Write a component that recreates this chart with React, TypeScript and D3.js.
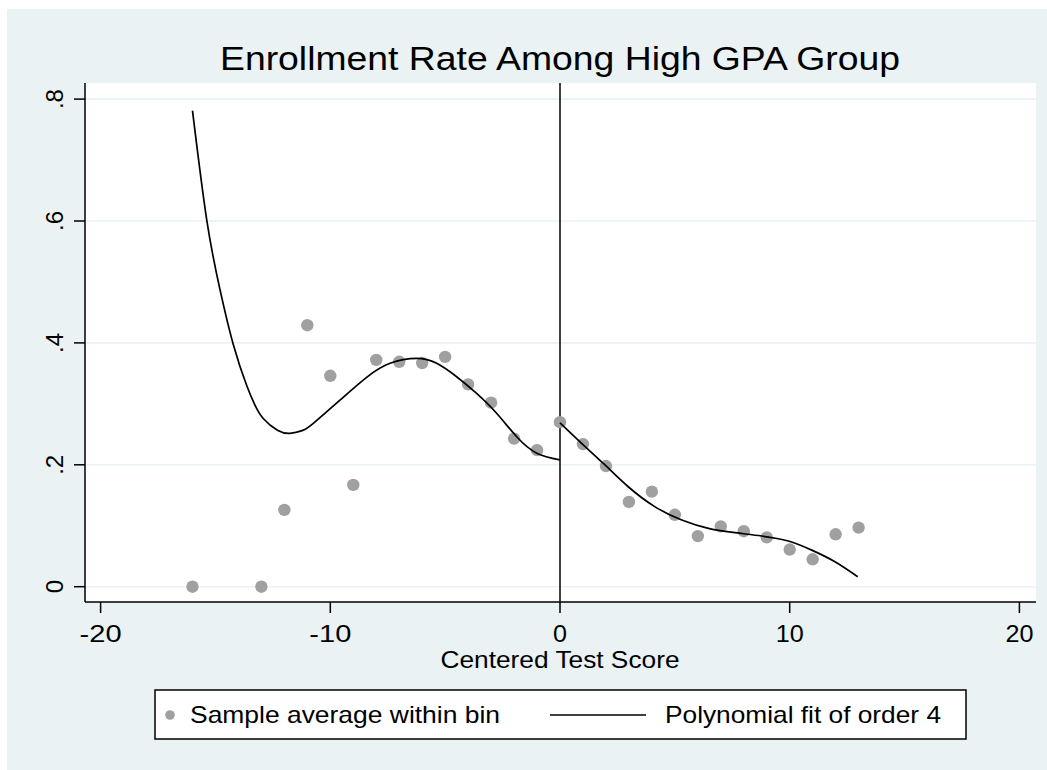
import React from "react";
import * as d3 from "d3";

const binX = [-16, -13, -12, -11, -10, -9, -8, -7, -6, -5, -4, -3, -2, -1, 0, 1, 2, 3, 4, 5, 6, 7, 8, 9, 10, 11, 12, 13];
const binY = [0.0, 0.0, 0.126, 0.429, 0.346, 0.167, 0.372, 0.369, 0.367, 0.377, 0.332, 0.302, 0.243, 0.224, 0.270, 0.234, 0.198, 0.139, 0.156, 0.118, 0.083, 0.099, 0.091, 0.081, 0.061, 0.045, 0.086, 0.097];

const fitLeftX = [-16, -15.38, -14.8, -14.22, -13.64, -13.28, -12.92, -12.3, -11.75, -11.2, -10.74, -9.58, -8.42, -7.4, -6.24, -5.37, -4.5, -3.63, -2.76, -1.885, -1.01, 0];
const fitLeftY = [0.781, 0.602, 0.487, 0.397, 0.33, 0.298, 0.276, 0.2568, 0.2516, 0.2565, 0.268, 0.306, 0.3435, 0.3665, 0.3747, 0.3665, 0.3445, 0.317, 0.2845, 0.246, 0.219, 0.208];

const fitRightX = [0, 0.94, 1.96, 2.97, 4.14, 5.3, 6.46, 7.62, 8.78, 9.94, 10.96, 11.97, 12.96];
const fitRightY = [0.269, 0.2353, 0.1997, 0.164, 0.131, 0.1094, 0.0958, 0.0886, 0.0832, 0.075, 0.06, 0.041, 0.0164];

const xTicks = [-20, -10, 0, 10, 20];
const yTicks = [0, 0.2, 0.4, 0.6, 0.8];
const yTickLabels = ["0", ".2", ".4", ".6", ".8"];

const title = "Enrollment Rate Among High GPA Group";
const xTitle = "Centered Test Score";
const legendLabels = ["Sample average within bin", "Polynomial fit of order 4"];

const FONT = "'Liberation Sans', Arial, Helvetica, sans-serif";
const BG = "#EAF2F3";
const DOT = "#A0A0A0";

export default function App() {
  const W = 1047, H = 770;
  const plotL = 85, plotR = 1036, plotT = 83, plotB = 602;
  const x = d3.scaleLinear().domain([-20, 20]).range([100.6, 1019.4]);
  const y = d3.scaleLinear().domain([0, 0.8]).range([586.7, 99.1]);

  const line = d3
    .line<[number, number]>()
    .x((d) => x(d[0]))
    .y((d) => y(d[1]))
    .curve(d3.curveNatural);

  const leftPts: [number, number][] = fitLeftX.map((v, i) => [v, fitLeftY[i]]);
  const rightPts: [number, number][] = fitRightX.map((v, i) => [v, fitRightY[i]]);

  const tickLen: Record<number, number> = { [-20]: 42, [-10]: 42, 0: 14, 10: 28, 20: 28 };

  return (
    <svg width={W} height={H} style={{ position: "absolute", left: 0, top: 0 }} fontFamily={FONT}>
      <rect x={0} y={0} width={W} height={H} fill="#ffffff" />
      <rect x={7} y={9} width={W - 7} height={H - 9} fill={BG} />
      <rect x={plotL} y={plotT} width={plotR - plotL} height={plotB - plotT} fill="#ffffff" />

      {yTicks.map((t) => (
        <line key={"g" + t} x1={plotL} x2={plotR} y1={y(t)} y2={y(t)} stroke={BG} strokeWidth={1.6} />
      ))}

      <text x={560} y={70} textAnchor="middle" fontSize={34} fill="#000" textLength={680} lengthAdjust="spacingAndGlyphs">
        {title}
      </text>

      {/* axes */}
      <line x1={plotL} x2={plotL} y1={plotT} y2={plotB} stroke="#000" strokeWidth={1.5} />
      <line x1={plotL} x2={plotR} y1={plotB} y2={plotB} stroke="#000" strokeWidth={1.5} />

      {yTicks.map((t, i) => (
        <g key={"yt" + t}>
          <line x1={74} x2={plotL} y1={y(t)} y2={y(t)} stroke="#000" strokeWidth={1.5} />
          <text
            transform={`translate(63,${y(t)}) rotate(-90)`}
            textAnchor="middle"
            fontSize={24}
            fill="#000"
          >
            {yTickLabels[i]}
          </text>
        </g>
      ))}

      {xTicks.map((t) => (
        <g key={"xt" + t}>
          <line x1={x(t)} x2={x(t)} y1={plotB} y2={613} stroke="#000" strokeWidth={1.5} />
          <text x={x(t)} y={642} textAnchor="middle" fontSize={24} fill="#000" textLength={tickLen[t]} lengthAdjust="spacingAndGlyphs">
            {t}
          </text>
        </g>
      ))}

      <text x={560} y={668} textAnchor="middle" fontSize={24} fill="#000" textLength={239} lengthAdjust="spacingAndGlyphs">
        {xTitle}
      </text>

      {/* cutoff line */}
      <line x1={x(0)} x2={x(0)} y1={plotT} y2={plotB} stroke="#000" strokeWidth={1.5} />

      {/* dots */}
      {binX.map((v, i) => (
        <circle key={"d" + i} cx={x(v)} cy={y(binY[i])} r={6.2} fill={DOT} />
      ))}

      {/* fits */}
      <path d={line(leftPts) || ""} fill="none" stroke="#000" strokeWidth={1.7} />
      <path d={line(rightPts) || ""} fill="none" stroke="#000" strokeWidth={1.7} />

      {/* legend */}
      <rect x={155} y={690} width={811} height={49} fill="#ffffff" stroke="#000" strokeWidth={1.5} />
      <circle cx={170} cy={715} r={4.8} fill={DOT} />
      <text x={190} y={723} fontSize={24} fill="#000" textLength={310} lengthAdjust="spacingAndGlyphs">
        {legendLabels[0]}
      </text>
      <line x1={550} x2={646} y1={715} y2={715} stroke="#000" strokeWidth={1.7} />
      <text x={665} y={723} fontSize={24} fill="#000" textLength={276} lengthAdjust="spacingAndGlyphs">
        {legendLabels[1]}
      </text>
    </svg>
  );
}
